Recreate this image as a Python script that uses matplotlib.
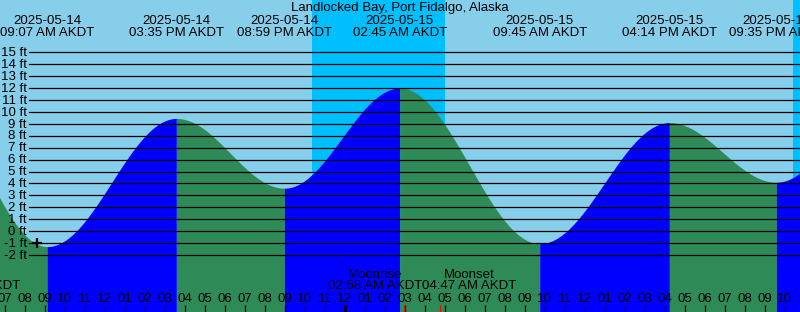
import matplotlib
matplotlib.use("Agg")
import numpy as np
import matplotlib.pyplot as plt
from datetime import datetime

# ---------------- data ----------------
title = "Landlocked Bay, Port Fidalgo, Alaska"
tide_times = ["2025-05-14 02:35", "2025-05-14 09:07", "2025-05-14 15:35",
              "2025-05-14 20:59", "2025-05-15 02:45", "2025-05-15 09:45",
              "2025-05-15 16:14", "2025-05-15 21:35", "2025-05-16 03:35"]
tide_heights = [12.8, -1.3, 9.45, 3.6, 12.0, -1.05, 9.1, 4.1, 12.5]
night_starts = ["2025-05-14 22:22", "2025-05-15 22:26"]
night_ends = ["2025-05-15 05:01", "2025-05-16 05:05"]
moon_times = ["2025-05-14 03:58", "2025-05-15 02:58", "2025-05-15 04:47"]
moon_kinds = ["Moonset", "Moonrise", "Moonset"]
marker_time = "2025-05-14 08:38"
marker_height = -1.0
ft_levels = list(range(-2, 16))
# ---------------------------------------------------------------

W, H = 800, 312
BASE = datetime(2025, 5, 14)


def hrs(s):
    d = datetime.strptime(s, "%Y-%m-%d %H:%M")
    return (d - BASE).total_seconds() / 3600.0


PXH = 20.0                  # pixels per hour
X0 = 9 - 44.7 / PXH         # hour at left edge
Y15, PXF = 52.3, 11.92      # pixel row of 15 ft, pixels per ft
YTOP = 15 + Y15 / PXF
YBOT = 15 - (H - Y15) / PXF

SKY = "#87CEEB"
NIGHT = "#00BFFF"
FLOOD = "#0000FF"
EBB = "#2E8B57"
FONT = ["Liberation Sans", "DejaVu Sans"]
FS = 9.5

fig = plt.figure(figsize=(W / 100, H / 100), dpi=100, facecolor=SKY)
ax = fig.add_axes([0, 0, 1, 1])
ax.set_axis_off()
ax.set_xlim(X0, X0 + W / PXH)
ax.set_ylim(YBOT, YTOP)


def fy(py):
    return 1 - py / H


def fx(px):
    return px / W


# night shading
for s, e in zip(night_starts, night_ends):
    ax.axvspan(hrs(s), hrs(e), color=NIGHT, lw=0, zorder=1)

# tide curve (cosine shape between successive extremes)
T = [hrs(s) for s in tide_times]
for i in range(len(T) - 1):
    t0, t1 = T[i], T[i + 1]
    h0, h1 = tide_heights[i], tide_heights[i + 1]
    tt = np.linspace(t0, t1, 300)
    hh = h0 + (h1 - h0) * (1 - np.cos(np.pi * (tt - t0) / (t1 - t0))) / 2
    ax.fill_between(tt, YBOT, hh, color=FLOOD if h1 > h0 else EBB,
                    lw=0, zorder=2)

# horizontal ft lines and labels
xt = ax.get_yaxis_transform()
for v in ft_levels:
    ax.axhline(v, xmin=fx(29), xmax=1, color="black", lw=0.9, zorder=3)
    ax.text(fx(27), v - 3.7 / PXF, f"{v} ft", transform=xt, ha="right",
            va="baseline", fontsize=FS, family=FONT, zorder=5)

# current marker
ax.plot([hrs(marker_time)], [marker_height], marker="+", color="black",
        ms=7, mew=1.6, zorder=4)

# title and extreme labels
ax.text(0.5, fy(11), title, transform=ax.transAxes, ha="center",
        va="baseline", fontsize=FS, family=FONT, zorder=5)
xa = ax.get_xaxis_transform()
for s in tide_times:
    d = datetime.strptime(s, "%Y-%m-%d %H:%M")
    t = hrs(s)
    ax.text(t, fy(24.3), d.strftime("%Y-%m-%d"), transform=xa, ha="center",
            va="baseline", fontsize=FS, family=FONT, zorder=5)
    ax.text(t, fy(36), d.strftime("%I:%M %p AKDT"), transform=xa,
            ha="center", va="baseline", fontsize=FS, family=FONT, zorder=5)

# hour ticks and labels
for hh in range(6, 48):
    lw = 2.0 if hh % 24 == 0 else 0.9
    ax.plot([hh, hh], [0, fy(305)], transform=xa, color="black", lw=lw,
            solid_capstyle="butt", zorder=4, clip_on=False)
    lab = f"{(hh % 12) or 12:02d}"
    ax.text(hh, fy(301.7), lab, transform=xa, ha="center", va="baseline",
            fontsize=FS, family=FONT, zorder=5)

# moon events
for s, k in zip(moon_times, moon_kinds):
    d = datetime.strptime(s, "%Y-%m-%d %H:%M")
    t = hrs(s)
    ax.plot([t, t], [0, fy(305)], transform=xa, color="red", lw=0.9,
            solid_capstyle="butt", zorder=4)
    off = -1.45 if k == "Moonrise" else 1.45
    ax.text(t + off, fy(278.3), k, transform=xa, ha="center",
            va="baseline", fontsize=FS, family=FONT, zorder=5)
    ax.text(t + off, fy(289.3), d.strftime("%I:%M %p AKDT"), transform=xa,
            ha="center", va="baseline", fontsize=FS, family=FONT, zorder=5)

fig.savefig("out.png", dpi=100, facecolor=SKY)
